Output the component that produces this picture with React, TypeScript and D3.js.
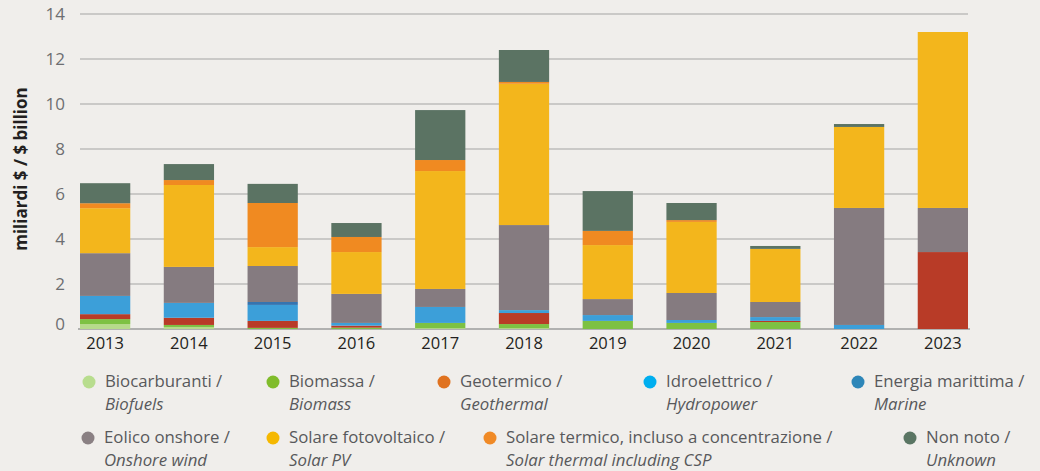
import * as d3 from "d3";

const years = ["2013", "2014", "2015", "2016", "2017", "2018", "2019", "2020", "2021", "2022", "2023"];

// values in $ billion, bottom to top of each stack
const biofuels = [0.22, 0.09, 0, 0, 0.04, 0.04, 0, 0, 0, 0, 0];
const biomass = [0.22, 0.09, 0.05, 0.06, 0.23, 0.18, 0.36, 0.27, 0.31, 0, 0];
const geothermal = [0.22, 0.32, 0.31, 0.09, 0, 0.49, 0, 0, 0.05, 0, 3.42];
const hydro = [0.81, 0.66, 0.71, 0.12, 0.71, 0.13, 0.26, 0.13, 0.17, 0.18, 0];
const marine = [0, 0, 0.13, 0, 0, 0, 0, 0, 0, 0, 0];
const onshoreWind = [1.9, 1.6, 1.6, 1.29, 0.8, 3.78, 0.71, 1.2, 0.67, 5.2, 1.96];
const solarPV = [2.0, 3.64, 0.84, 1.86, 5.24, 6.28, 2.4, 3.16, 2.36, 3.6, 7.82];
const solarThermal = [0.22, 0.22, 1.96, 0.67, 0.49, 0.08, 0.63, 0.08, 0, 0, 0];
const unknown = [0.89, 0.71, 0.85, 0.62, 2.22, 1.42, 1.77, 0.76, 0.13, 0.13, 0];

const seriesKeys = ["biofuels", "biomass", "geothermal", "hydro", "marine", "wind", "pv", "thermal", "unknown"];
const seriesValues = [biofuels, biomass, geothermal, hydro, marine, onshoreWind, solarPV, solarThermal, unknown];
const labelsIt = ["Biocarburanti /", "Biomassa /", "Geotermico /", "Idroelettrico /", "Energia marittima /", "Eolico onshore /", "Solare fotovoltaico /", "Solare termico, incluso a concentrazione /", "Non noto /"];
const labelsEn = ["Biofuels", "Biomass", "Geothermal", "Hydropower", "Marine", "Onshore wind", "Solar PV", "Solar thermal including CSP", "Unknown"];
const barColors = ["#b6da8b", "#7dc143", "#b83b27", "#3c9fd9", "#3574b0", "#857b80", "#f3b61c", "#f08a21", "#5b7363"];
const legendColors = ["#b8dd8e", "#80bc2b", "#e0721f", "#00aeef", "#2e86b8", "#8a8083", "#f5b800", "#f08a26", "#5a7563"];
const yTicks = [0, 2, 4, 6, 8, 10, 12, 14];

// legend layout: two rows
const legendRows = [
  [0, 1, 2, 3, 4],
  [5, 6, 7, 8],
];
const legendX = [
  [89, 273, 444, 650, 858],
  [88, 273, 490, 910],
];

const font = "'Open Sans', 'Noto Sans', sans-serif";

export default function App() {
  const width = 1040;
  const height = 471;

  const rows = years.map((y, i) => {
    const r: Record<string, any> = { year: y };
    seriesKeys.forEach((k, j) => (r[k] = seriesValues[j][i]));
    return r;
  });
  const stacked = d3.stack<any>().keys(seriesKeys)(rows);

  const x = d3.scaleBand().domain(years).range([80, 968]).paddingInner(0.4).paddingOuter(0);
  const y = d3.scaleLinear().domain([0, 14]).range([329, 14]);

  return (
    <div style={{ position: "fixed", inset: 0, background: "#f0eeeb" }}>
      <svg width={width} height={height} style={{ display: "block" }} fontFamily={font}>
        <rect width={width} height={height} fill="#f0eeeb" />
        {/* grid */}
        {yTicks.map((t) => (
          <g key={t}>
            <line x1={t === 0 ? 78 : 80} x2={t === 0 ? 970 : 968} y1={y(t)} y2={y(t)} stroke={t === 0 ? "#9d9d9d" : "#a3a3a3"} strokeWidth={t === 0 ? 1.5 : 1.2} />
            <text x={65} y={y(t) - (t === 0 ? 5 : 0)} dy="0.35em" textAnchor="end" fontSize={17} fill="#6d6e71">
              {t}
            </text>
          </g>
        ))}

        {/* bars */}
        {stacked.map((s, j) => (
          <g key={s.key} fill={barColors[j]}>
            {s.map((d, i) =>
              d[1] - d[0] > 0 ? (
                <rect key={i} x={x(years[i])} width={x.bandwidth()} y={y(d[1])} height={y(d[0]) - y(d[1])} />
              ) : null
            )}
          </g>
        ))}

        {/* x labels */}
        {years.map((yr) => (
          <text key={yr} x={(x(yr) ?? 0) + x.bandwidth() / 2} y={349} textAnchor="middle" fontSize={16.5} fill="#231f20">
            {yr}
          </text>
        ))}

        {/* y title */}
        <text transform="translate(27,169) rotate(-90)" textAnchor="middle" fontSize={17} fontWeight="bold" fill="#231f20">
          miliardi $ / $ billion
        </text>

        {/* legend: Italian label, English in italics below */}
        {legendRows.map((row, ri) =>
          row.map((si, ci) => {
            const cx = legendX[ri][ci];
            const cy = ri === 0 ? 382 : 438;
            return (
              <g key={si}>
                <circle cx={cx} cy={cy} r={6.5} fill={legendColors[si]} />
                <text x={cx + 16} y={cy - 1} dy="0.35em" fontSize={16.8} fill="#58595b">
                  {labelsIt[si]}
                </text>
                <text x={cx + 16} y={cy + 22} dy="0.35em" fontSize={16.8} fontStyle="italic" fill="#58595b">
                  {labelsEn[si]}
                </text>
              </g>
            );
          })
        )}
      </svg>
    </div>
  );
}
